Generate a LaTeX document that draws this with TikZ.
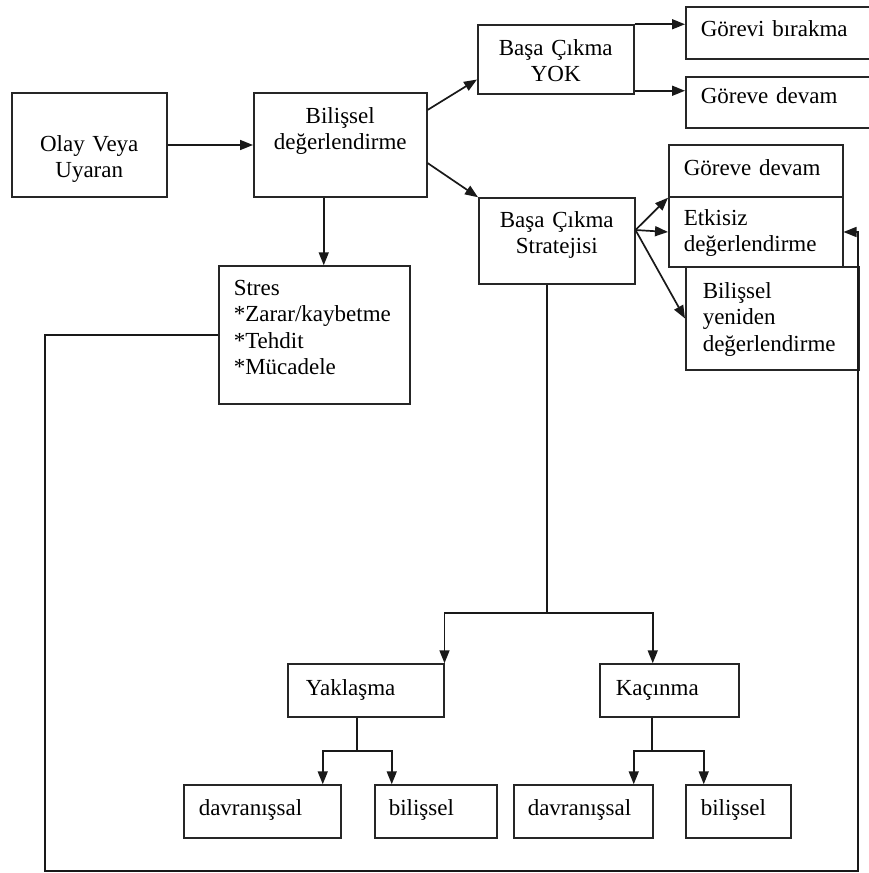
\documentclass[tikz,border=0pt]{standalone}
\usepackage{fontspec}
\setmainfont{Liberation Serif}
\usetikzlibrary{arrows.meta}
\tikzset{
  box/.style n args={5}{draw=black!85, line width=1.5pt, anchor=base west,
    inner ysep=0pt, inner xsep=#1pt, text width=#2pt-2*#1pt,
    text height=#3pt, text depth=#4pt, align=#5,
    font=\fontsize{23}{26.5}\selectfont},
  link/.style={line width=1.7pt, draw=black!90},
  arr/.style={link, -{Triangle[length=13pt,width=10pt]}}
}
\begin{document}
\begin{tikzpicture}[x=1pt, y=-1pt]
\useasboundingbox (0,0) rectangle (869,873);
% boxes
\node[box={8}{155}{58}{46}{center}] (olay) at (11,151) {Olay Veya\\Uyaran};
\node[box={8}{173}{30}{74}{center}] (bil) at (253,123) {Bilişsel\\değerlendirme};
\node[box={8}{156}{30}{39}{center}] (yok) at (477,55) {Başa Çıkma\\YOK};
\node[box={15}{190}{29}{23}{left}] (birak) at (685,36) {Görevi bırakma};
\node[box={15}{190}{26}{25}{left}] (devam1) at (685,103) {Göreve devam};
\node[box={8}{156}{29}{57}{center}] (strat) at (478,227) {Başa Çıkma\\Stratejisi};
\node[box={15}{174}{30}{22}{left}] (devam2) at (668,175) {Göreve devam};
\node[box={15}{174}{28}{42}{left}] (etkisiz) at (668,225) {Etkisiz\\değerlendirme};
\node[box={17}{173}{31}{72}{left}] (yeniden) at (685,298) {Bilişsel\\yeniden\\değerlendirme};
\node[box={15}{191}{29}{109}{left}] (stres) at (218,295) {Stres\\{*}Zarar/kaybetme\\{*}Tehdit\\{*}Mücadele};
\node[box={18}{156}{31}{22}{left}] (yak) at (287,695) {Yaklaşma};
\node[box={16}{139}{31}{22}{left}] (kac) at (599,695) {Kaçınma};
\node[box={15}{157}{30}{23}{left}] (davr1) at (183,815) {davranışsal};
\node[box={14}{122}{30}{23}{left}] (bil1) at (374,815) {bilişsel};
\node[box={14}{139}{30}{23}{left}] (davr2) at (513,815) {davranışsal};
\node[box={15}{105}{30}{23}{left}] (bil2) at (685,815) {bilişsel};
% upper connectors
\draw[arr] (olay.east) -- (bil.west);
\draw[arr] ([yshift=35pt]bil.east) -- ([yshift=-20pt]yok.west);
\draw[arr] ([yshift=-18pt]bil.east) -- (strat.north west);
\draw[arr] (yok.north east) -- (yok.north east -| birak.west);
\draw[arr] ([yshift=4pt]yok.south east) -- ([yshift=4pt]yok.south east -| devam1.west);
\coordinate (s0) at ([yshift=11pt]strat.east);
\draw[arr] (s0) -- (devam2.south west);
\draw[arr] (s0) -- (etkisiz.west);
\draw[arr] (s0) -- (yeniden.west);
\draw[arr] ([xshift=-16.5pt]bil.south) -- ([xshift=-16.5pt]bil.south |- stres.north);
% lower tree
\coordinate (t0) at (547,613);
\draw[link] (strat.south -| t0) -- (t0);
\draw[arr] (t0) -| (yak.north east);
\draw[arr] (t0) -| ([xshift=-16.5pt]kac.north);
\coordinate (t1) at (357,751);
\draw[link] (yak.south -| t1) -- (t1);
\draw[arr] (t1) -| ([xshift=60.5pt]davr1.north);
\draw[arr] (t1) -| ([xshift=-44pt]bil1.north);
\coordinate (t2) at (652,751);
\draw[link] (kac.south -| t2) -- (t2);
\draw[arr] (t2) -| ([xshift=50.5pt]davr2.north);
\draw[arr] (t2) -| ([xshift=-34.5pt]bil2.north);
% feedback loop
\coordinate (l0) at (45,871);
\coordinate (l1) at (858,871);
\draw[arr] (stres.west) -| (l0) -- (l1) |- (etkisiz.east);
\end{tikzpicture}
\end{document}
